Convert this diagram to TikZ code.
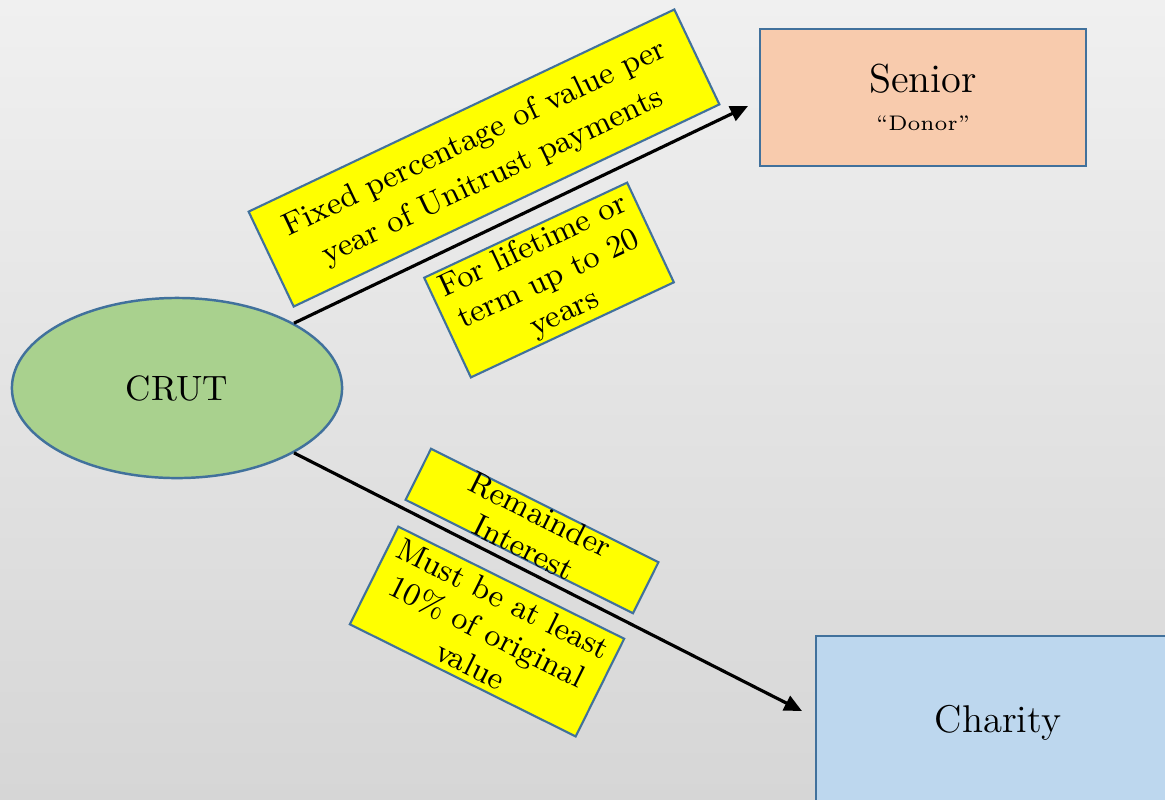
\documentclass[tikz,border=0pt]{standalone}
\usepackage{tikz}
\usepackage{xcolor}
\usetikzlibrary{shapes.geometric,arrows.meta}
\definecolor{bgtop}{RGB}{240,240,240}
\definecolor{bgbottom}{RGB}{214,214,214}
\definecolor{edgeblue}{RGB}{65,113,156}
\definecolor{crutgreen}{RGB}{169,209,142}
\definecolor{seniorpeach}{RGB}{248,203,173}
\definecolor{charityblue}{RGB}{189,215,238}
\definecolor{noteyellow}{RGB}{255,255,0}

\begin{document}
\begin{tikzpicture}[x=0.01cm,y=-0.01cm,
  every node/.style={font=\fontsize{9}{10.5}\selectfont},
  note/.style={draw=edgeblue,line width=0.6pt,fill=noteyellow,inner sep=0pt,align=center},
  party/.style={draw=edgeblue,line width=0.7pt,inner sep=0pt,align=center,font=\fontsize{11}{13}\selectfont},
  flow/.style={line width=0.9pt,-{Triangle[length=5pt,width=4.5pt]}}]
\shade[top color=bgtop,bottom color=bgbottom] (0,0) rectangle (1165,799);
\useasboundingbox (0,0) rectangle (1165,799);

% the three parties
\node[ellipse,draw=edgeblue,line width=0.7pt,fill=crutgreen,minimum width=3.30cm,minimum height=1.80cm,
  inner sep=0pt,font=\fontsize{10}{12}\selectfont] (crut) at (177,388) {CRUT};
\node[party,fill=seniorpeach,minimum width=3.26cm,minimum height=1.37cm] (senior) at (923,97.5)
  {\fontsize{11.5}{13}\selectfont Senior\\[-2pt]{\fontsize{6}{8}\selectfont ``Donor''}};
\node[party,fill=charityblue,minimum width=3.64cm,minimum height=1.74cm] (charity) at (998,723) {Charity};

% payments
\coordinate (seniorIn) at (748,106);
\coordinate (charityIn) at (802,711);
\draw[flow] (crut.29) -- (seniorIn);
\draw[flow] (crut.-29) -- (charityIn);

% notes on the arrows
\node[note,rotate=25.4,minimum width=4.71cm,minimum height=1.05cm,font=\fontsize{9}{12}\selectfont] (payNote) at (484,158)
  {Fixed percentage of value per\\year of Unitrust payments};
\node[note,rotate=25.1,minimum width=2.24cm,minimum height=1.10cm] (termNote) at (549,280)
  {For lifetime or\\term up to 20\\years};
\node[note,rotate=-26.5,minimum width=2.54cm,minimum height=0.57cm,
  label={[rotate=-26.5,align=center]center:Remainder\\Interest}] (restNote) at (532,531) {};
\node[note,rotate=-26.4,minimum width=2.52cm,minimum height=1.09cm] (minNote) at (487,631.5)
  {Must be at least\\10\% of original\\value};
\end{tikzpicture}
\end{document}
